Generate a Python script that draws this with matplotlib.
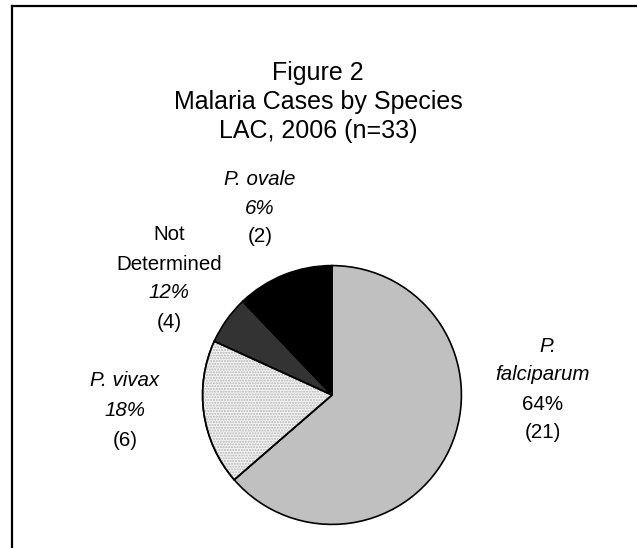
import matplotlib
matplotlib.use("Agg")
import matplotlib.pyplot as plt
from matplotlib.patches import Wedge
from matplotlib.lines import Line2D

plt.rcParams['font.family'] = ['Liberation Sans', 'DejaVu Sans']

species = ["P. falciparum", "P. vivax", "P. ovale", "Not Determined"]
counts = [21, 6, 2, 4]
colors = ["#c0c0c0", "#f4f4f4", "#333333", "#000000"]
title_lines = ["Figure 2", "Malaria Cases by Species", "LAC, 2006 (n=33)"]

W, H = 637, 548
fig = plt.figure(figsize=(W / 100, H / 100), dpi=100)
fig.patch.set_facecolor("white")

# pie axes: center (332, 395) px, radius 132 px
cx, cy, r = 332, 395, 132
ax = fig.add_axes([(cx - r) / W, (H - cy - r) / H, 2 * r / W, 2 * r / H])
wedges, _ = ax.pie(counts, colors=colors, startangle=90, counterclock=False,
                   radius=1.0, wedgeprops=dict(edgecolor="black", linewidth=1.2))
# dotted texture on P. vivax
wv = wedges[1]
ax.add_patch(Wedge(wv.center, wv.r, wv.theta1, wv.theta2, facecolor="none",
                   edgecolor="#b5b5b5", linewidth=0, hatch="......", zorder=wv.get_zorder() + 0.1))
ax.add_patch(Wedge(wv.center, wv.r, wv.theta1, wv.theta2, facecolor="none",
                   edgecolor="black", linewidth=1.2, zorder=wv.get_zorder() + 0.2))
ax.set_xlim(-1.02, 1.02)
ax.set_ylim(-1.02, 1.02)
ax.set_aspect("equal")
ax.axis("off")

total = sum(counts)
pct = [round(100 * c / total) for c in counts]

def ftext(x, y, s, style="normal", size=14.8):
    fig.text(x / W, 1 - y / H, s, ha="center", va="center", fontsize=size, style=style)

# title
for i, line in enumerate(title_lines):
    ftext(318, 73 + 29 * i, line, size=18)

# labels
# P. ovale
ftext(260, 179, species[2], "italic")
ftext(260, 208, f"{pct[2]}%", "italic")
ftext(260, 237, f"({counts[2]})")
# Not Determined
ftext(169, 235, "Not")
ftext(169, 264, "Determined")
ftext(169, 293, f"{pct[3]}%", "italic")
ftext(169, 322, f"({counts[3]})")
# P. vivax
ftext(125, 381, species[1], "italic")
ftext(125, 410, f"{pct[1]}%", "italic")
ftext(125, 440, f"({counts[1]})")
# P. falciparum
ftext(548, 346, "P.", "italic")
ftext(543, 375, "falciparum", "italic")
ftext(543, 404, f"{pct[0]}%")
ftext(543, 433, f"({counts[0]})")

# frame lines (top and left)
fig.add_artist(Line2D([11.5 / W, 11.5 / W], [0, 1 - 5.5 / H], color="black", linewidth=1.6,
                      transform=fig.transFigure, solid_capstyle="projecting"))
fig.add_artist(Line2D([11.5 / W, 1], [1 - 5.5 / H, 1 - 5.5 / H], color="black", linewidth=1.6,
                      transform=fig.transFigure, solid_capstyle="projecting"))

fig.savefig("out.png", dpi=100, facecolor="white")
